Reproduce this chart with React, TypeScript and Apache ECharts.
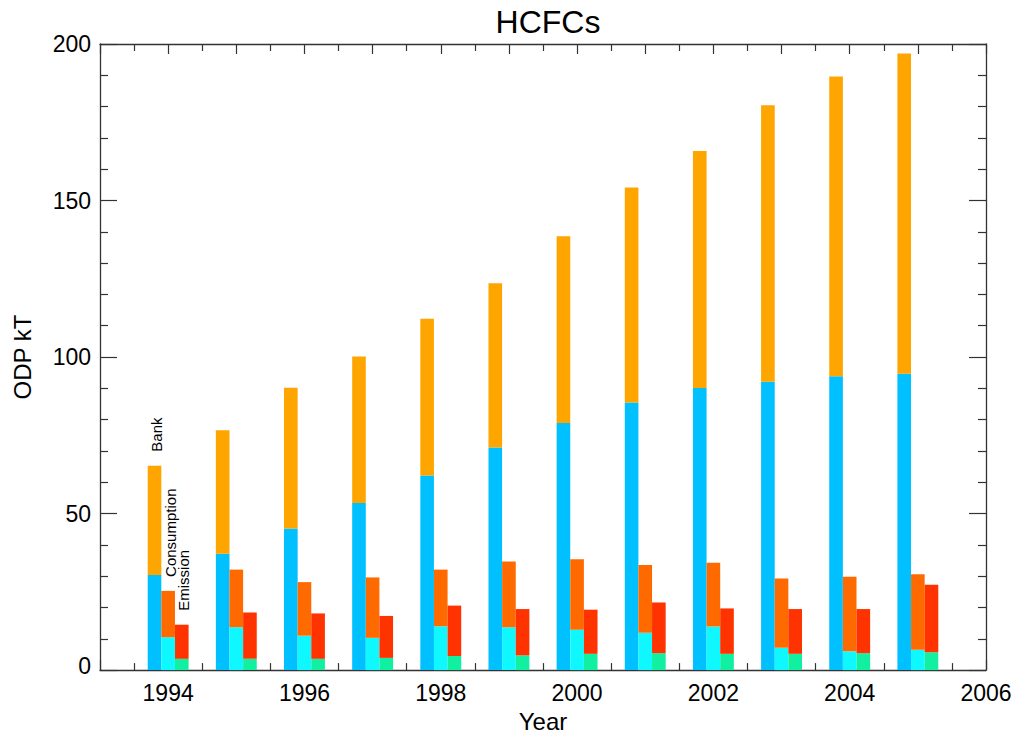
import React, { useEffect, useRef } from "react";
import * as echarts from "echarts";

const years = [1994, 1995, 1996, 1997, 1998, 1999, 2000, 2001, 2002, 2003, 2004, 2005];
// Bank: lower (blue) part and total height
const bankLower = [30.4, 37.2, 45.2, 53.4, 62.2, 71.1, 78.9, 85.5, 90.1, 92.1, 93.9, 94.7];
const bankTotal = [65.3, 76.6, 90.2, 100.2, 112.2, 123.6, 138.6, 154.2, 165.8, 180.4, 189.6, 197.0];
// Consumption
const consLower = [10.5, 13.7, 11.0, 10.3, 14.0, 13.7, 12.9, 11.9, 13.9, 7.1, 6.0, 6.5];
const consTotal = [25.3, 32.1, 28.1, 29.6, 32.1, 34.7, 35.4, 33.6, 34.3, 29.3, 29.8, 30.6];
// Emission
const emisLower = [3.6, 3.6, 3.6, 3.9, 4.5, 4.7, 5.2, 5.4, 5.2, 5.2, 5.4, 5.7];
const emisTotal = [14.5, 18.4, 18.1, 17.3, 20.6, 19.5, 19.3, 21.6, 19.7, 19.5, 19.5, 27.3];

const groupNames = ["Bank", "Consumption", "Emission"];
const yTicks = [0, 50, 100, 150, 200];

const FONT = "Liberation Sans, Helvetica, Arial, sans-serif";
const AXIS_COLOR = "#333";

function makeSeries(
  name: string,
  lower: number[],
  total: number[],
  offset: number,
  lowColor: string,
  highColor: string
) {
  const half = 0.1;
  return {
    type: "custom",
    name,
    z: 3,
    encode: { x: 0, y: 2 },
    data: years.map((yr, i) => [yr, lower[i], total[i]]),
    renderItem: (params: any, api: any) => {
      const x = api.value(0) as number;
      const lo = api.value(1) as number;
      const hi = api.value(2) as number;
      const p0 = api.coord([x + offset - half, 0]);
      const p1 = api.coord([x + offset + half, lo]);
      const p2 = api.coord([x + offset + half, hi]);
      const left = p0[0];
      const w = p1[0] - p0[0];
      const children: any[] = [
        {
          type: "rect",
          shape: { x: left, y: p1[1], width: w, height: p0[1] - p1[1] },
          style: { fill: lowColor },
        },
        {
          type: "rect",
          shape: { x: left, y: p2[1], width: w, height: p1[1] - p2[1] },
          style: { fill: highColor },
        },
      ];
      if (params.dataIndex === 0) {
        children.push({
          type: "text",
          x: left + w / 2 + 2,
          y: p2[1] - 14,
          rotation: Math.PI / 2,
          style: {
            text: name,
            align: "left",
            verticalAlign: "middle",
            fontSize: 15,
            fontFamily: FONT,
            fill: "#000",
          },
        });
      }
      return { type: "group", children };
    },
  };
}

export default function App() {
  const ref = useRef<HTMLDivElement>(null);
  useEffect(() => {
    if (!ref.current) return;
    const chart = echarts.init(ref.current, undefined, { renderer: "svg" });
    const xCommon = {
      type: "value",
      min: 1993,
      max: 2006,
      interval: 1,
      axisLine: { show: true, onZero: false, lineStyle: { color: AXIS_COLOR, width: 1.3 } },
      axisTick: { show: true, inside: true, length: 10, lineStyle: { color: AXIS_COLOR, width: 1.2 } },
      minorTick: { show: true, splitNumber: 2, length: 7, lineStyle: { color: AXIS_COLOR, width: 1.2 } },
      splitLine: { show: false },
      minorSplitLine: { show: false },
    };
    const yCommon = {
      type: "value",
      min: 0,
      max: 200,
      interval: 50,
      axisLine: { show: true, onZero: false, lineStyle: { color: AXIS_COLOR, width: 1.3 } },
      axisTick: { show: true, inside: true, length: 17, lineStyle: { color: AXIS_COLOR, width: 1.2 } },
      minorTick: { show: true, splitNumber: 5, length: 8, lineStyle: { color: AXIS_COLOR, width: 1.2 } },
      splitLine: { show: false },
      minorSplitLine: { show: false },
    };
    chart.setOption({
      animation: false,
      backgroundColor: "#fff",
      title: {
        text: "HCFCs",
        left: 543,
        top: 1,
        textAlign: "center",
        textStyle: { fontSize: 32, fontWeight: "normal", color: "#000", fontFamily: FONT },
      },
      grid: { left: 100, right: 31, top: 44, bottom: 65, containLabel: false },
      xAxis: [
        {
          ...xCommon,
          position: "bottom",
          name: "Year",
          nameLocation: "middle",
          nameGap: 36,
          nameTextStyle: { fontSize: 24, color: "#000", fontFamily: FONT },
          axisLabel: {
            show: true,
            margin: 11,
            fontSize: 23,
            color: "#000",
            fontFamily: FONT,
            formatter: (v: number) => (v % 2 === 0 ? String(v) : ""),
          },
        },
        { ...xCommon, position: "top", axisLabel: { show: false } },
      ],
      yAxis: [
        {
          ...yCommon,
          position: "left",
          name: "ODP kT",
          nameLocation: "middle",
          nameGap: 66,
          nameTextStyle: { fontSize: 24, color: "#000", fontFamily: FONT },
          axisLabel: {
            show: true,
            margin: 9,
            fontSize: 23,
            color: "#000",
            fontFamily: FONT,
            formatter: (v: number) =>
              yTicks.includes(v) ? (v === 0 ? "{z|0}" : String(v)) : "",
            rich: {
              z: { fontSize: 23, color: "#000", fontFamily: FONT, padding: [0, 0, 8, 0] },
            },
          },
        },
        { ...yCommon, position: "right", axisLabel: { show: false } },
      ],
      series: [
        makeSeries(groupNames[0], bankLower, bankTotal, -0.2, "#00C0FF", "#FFA500"),
        makeSeries(groupNames[1], consLower, consTotal, 0, "#10F8FF", "#FF6A00"),
        makeSeries(groupNames[2], emisLower, emisTotal, 0.2, "#10F0A0", "#FF3300"),
      ],
    });
    return () => chart.dispose();
  }, []);
  return (
    <div
      ref={ref}
      style={{ position: "fixed", left: 0, top: 0, width: 1017, height: 738 }}
    />
  );
}
